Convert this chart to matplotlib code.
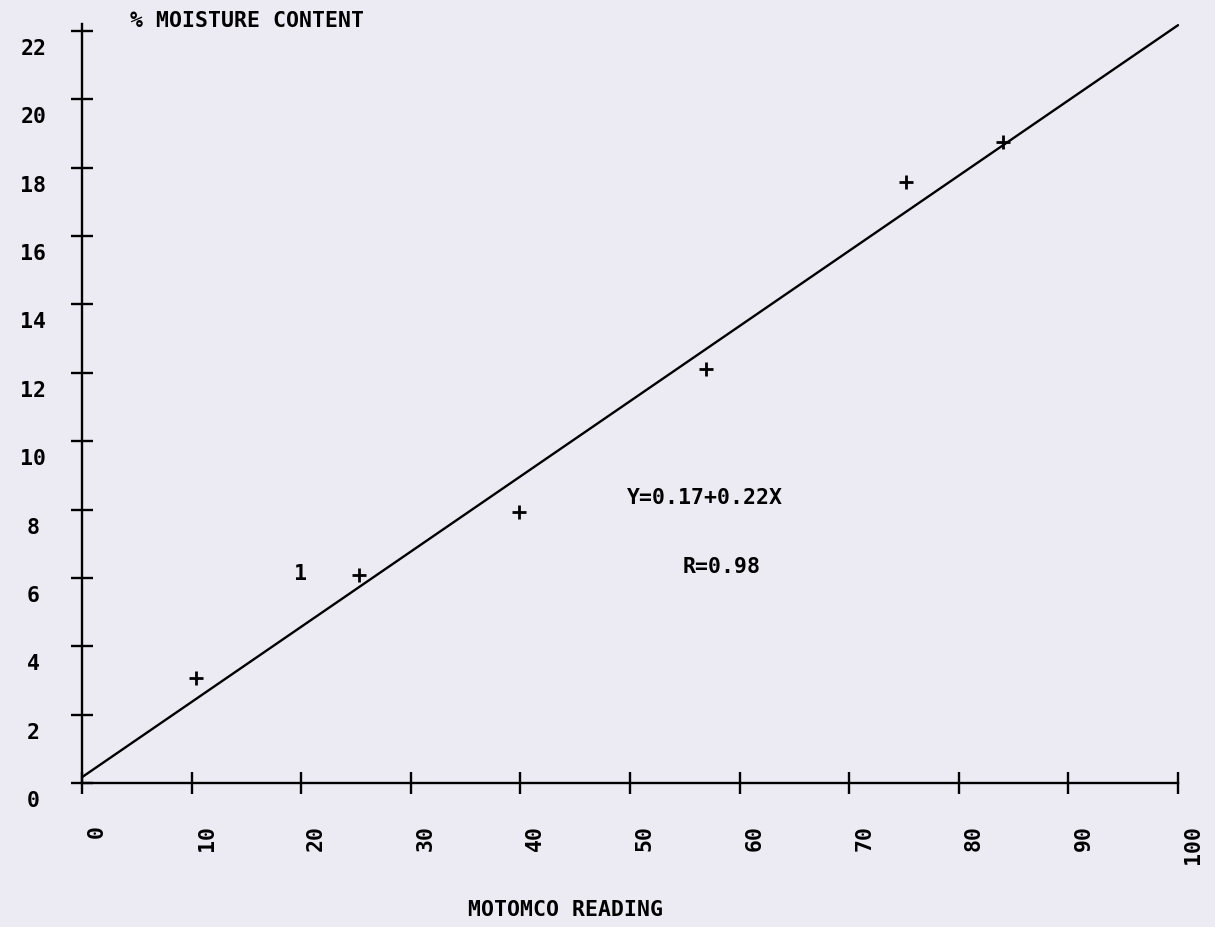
import matplotlib
matplotlib.use('agg')
import matplotlib.pyplot as plt
from matplotlib.transforms import ScaledTranslation

# measured readings (motomco reading vs % moisture)
X_POINTS = [10.4, 25.3, 39.9, 56.9, 75.2, 84.0]
Y_POINTS = [3.07, 6.09, 7.93, 12.11, 17.58, 18.75]

# point plotted with the symbol "1"
X_ONE = [19.9]
Y_ONE = [6.11]

# fitted line Y = 0.17 + 0.22X
INTERCEPT = 0.17
SLOPE = 0.22
FIT_X = [0, 100]

X_TICKS = [0, 10, 20, 30, 40, 50, 60, 70, 80, 90, 100]
Y_TICKS = [0, 2, 4, 6, 8, 10, 12, 14, 16, 18, 20, 22]

BG = '#ecebf3'
FONT = 'DejaVu Sans Mono'
FS = 15.5
W = 'bold'

fig = plt.figure(figsize=(12.15, 9.27), dpi=100, facecolor=BG)
ax = fig.add_axes([82 / 1215, (927 - 783) / 927, (1178 - 82) / 1215, (783 - 31) / 927])
ax.set_facecolor(BG)

fit_y = [INTERCEPT + SLOPE * x for x in FIT_X]
ax.plot(FIT_X, fit_y, color='black', lw=1.7, clip_on=False, solid_capstyle='round')
ax.plot(X_POINTS, Y_POINTS, linestyle='none', marker='+', markersize=10.5,
        markeredgewidth=2.0, color='black', clip_on=False)
for x, y in zip(X_ONE, Y_ONE):
    ax.text(x, y, '1', family=FONT, fontsize=FS, fontweight=W,
            ha='center', va='center')

ax.set_xlim(0, 100)
ax.set_ylim(0, 22)
for s in ['top', 'right']:
    ax.spines[s].set_visible(False)
ax.spines['left'].set_bounds(0, 22.2)
for s in ['left', 'bottom']:
    ax.spines[s].set_linewidth(1.7)

ax.set_xticks(X_TICKS)
ax.set_yticks(Y_TICKS)
ax.set_xticklabels([str(t) for t in X_TICKS], rotation=90, family=FONT,
                   fontsize=FS, fontweight=W)
ax.set_yticklabels([str(t) for t in Y_TICKS], family=FONT, fontsize=FS,
                   fontweight=W, ha='center')
ax.tick_params(axis='both', direction='inout', length=16, width=1.7, color='black')
ax.tick_params(axis='x', pad=22)
ax.tick_params(axis='y', pad=27)

for lab in ax.get_xticklabels():
    lab.set_transform(lab.get_transform() + ScaledTranslation(0.15, 0, fig.dpi_scale_trans))
for lab in ax.get_yticklabels():
    lab.set_transform(lab.get_transform() + ScaledTranslation(0, -0.16, fig.dpi_scale_trans))

fig.text(130 / 1215, 1 - 21 / 927, '% MOISTURE CONTENT', family=FONT, fontsize=FS,
         fontweight=W, ha='left', va='center')
fig.text(565 / 1215, 1 - 910 / 927, 'MOTOMCO READING', family=FONT, fontsize=FS,
         fontweight=W, ha='center', va='center')

ax.text(49.7, 8.34, 'Y=0.17+0.22X', family=FONT, fontsize=FS, fontweight=W,
        ha='left', va='center')
ax.text(54.8, 6.32, 'R=0.98', family=FONT, fontsize=FS, fontweight=W,
        ha='left', va='center')

fig.savefig('out.png', dpi=100, facecolor=BG)
